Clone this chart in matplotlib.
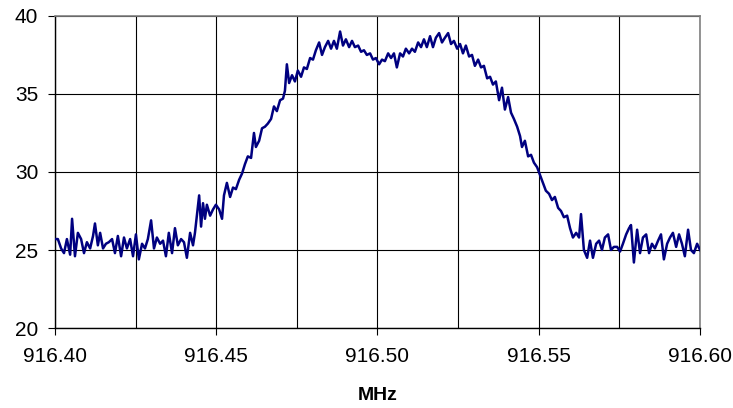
import numpy as np
import matplotlib

matplotlib.use("Agg")
import matplotlib.pyplot as plt
from matplotlib.ticker import MultipleLocator

plt.rcParams["font.family"] = ["Liberation Sans", "DejaVu Sans"]

LINE_C = "#000080"

# frequency offset above 916.40 MHz, in kHz
OFFSET_KHZ = [
    0.0, 0.9, 1.9, 2.8, 3.7, 4.7, 5.3, 6.2, 7.1, 8.1, 9.0, 9.9, 10.9, 11.8, 12.4, 13.3,
    14.0, 14.9, 15.8, 16.7, 17.7, 18.6, 19.5, 20.5, 21.4, 22.3, 23.3, 24.2, 25.1, 26.0,
    27.0, 27.9, 28.8, 29.8, 30.7, 31.6, 32.6, 33.5, 34.4, 35.3, 36.3, 37.2, 38.1, 39.1,
    40.0, 40.9, 41.9, 42.8, 43.4, 44.0, 44.7, 45.3, 45.9, 46.5, 47.1, 48.1, 49.0, 49.9,
    50.9, 51.8, 52.4, 53.3, 54.3, 55.2, 56.1, 57.1, 58.0, 58.9, 59.8, 60.8, 61.7, 62.3,
    63.3, 64.2, 65.1, 66.0, 67.0, 67.9, 68.8, 69.8, 70.7, 71.3, 71.9, 72.6, 73.5, 74.4,
    75.3, 76.3, 77.2, 78.1, 79.1, 80.0, 80.9, 81.9, 82.8, 83.7, 84.7, 85.6, 86.5, 87.4,
    88.4, 89.3, 90.2, 91.2, 92.1, 93.0, 94.0, 94.9, 95.8, 96.7, 97.7, 98.6, 99.5, 100.5,
    101.4, 102.3, 103.3, 104.2, 105.1, 106.0, 107.0, 107.9, 108.8, 109.8, 110.7, 111.6,
    112.6, 113.5, 114.4, 115.3, 116.3, 117.2, 118.1, 119.1, 120.0, 120.9, 121.9, 122.8,
    123.7, 124.7, 125.6, 126.5, 127.4, 128.4, 129.3, 130.2, 131.2, 132.1, 133.0, 134.0,
    134.9, 135.8, 136.7, 137.7, 138.6, 139.5, 140.5, 141.4, 142.3, 143.3, 144.2, 144.8,
    145.7, 146.7, 147.6, 148.5, 149.5, 150.4, 151.3, 152.2, 153.2, 154.1, 155.0, 156.0,
    156.9, 157.8, 158.8, 159.7, 160.6, 161.6, 162.5, 163.1, 164.0, 165.0, 165.9, 166.8,
    167.8, 168.7, 169.6, 170.5, 171.5, 172.4, 173.3, 174.3, 175.2, 176.1, 177.1, 178.0,
    178.6, 179.5, 180.5, 181.4, 182.3, 183.3, 184.2, 185.1, 186.0, 187.0, 187.9, 188.8,
    189.8, 190.7, 191.6, 192.6, 193.5, 194.4, 195.3, 196.3, 197.2, 198.1, 199.1, 200.0,
]

LEVEL = [
    25.7, 25.7, 25.1, 24.8, 25.7, 24.7, 27.0, 24.6, 26.1, 25.7, 24.8, 25.5, 25.1, 25.9, 26.7, 25.3,
    26.1, 25.1, 25.4, 25.5, 25.7, 24.8, 25.9, 24.6, 25.8, 25.1, 25.7, 24.6, 26.0, 24.4,
    25.4, 25.1, 25.7, 26.9, 25.1, 25.8, 25.4, 25.6, 24.6, 26.1, 24.8, 26.4, 25.3, 25.7,
    25.5, 24.5, 26.1, 25.3, 26.1, 27.2, 28.5, 26.5, 28.0, 27.0, 27.9, 27.2, 27.6, 27.9,
    27.6, 27.0, 28.5, 29.3, 28.4, 29.0, 28.9, 29.5, 29.9, 30.5, 31.0, 30.9, 32.5, 31.6,
    32.0, 32.8, 32.9, 33.1, 33.4, 34.2, 33.9, 34.6, 34.7, 35.2, 36.9, 35.7, 36.2, 35.8,
    36.5, 36.1, 36.7, 36.6, 37.3, 37.2, 37.8, 38.3, 37.5, 38.0, 38.4, 37.9, 38.4, 37.9,
    39.0, 38.1, 38.5, 38.0, 38.4, 38.0, 38.1, 37.7, 37.8, 37.5, 37.6, 37.2, 37.3, 36.9,
    37.2, 37.1, 37.6, 37.3, 37.6, 36.7, 37.6, 37.4, 37.9, 37.6, 37.9, 37.7,
    38.3, 38.0, 38.5, 38.0, 38.7, 38.0, 38.6, 38.9, 38.3, 38.6, 38.9, 38.2,
    38.4, 37.9, 38.2, 37.6, 38.1, 37.4, 37.5, 36.8, 37.2, 36.7, 36.8, 36.0,
    36.1, 35.6, 35.8, 34.6, 35.4, 34.0, 34.8, 33.8, 33.4, 32.9, 32.3, 31.6,
    32.0, 31.0, 31.1, 30.6, 30.3, 29.8, 29.3, 28.8, 28.6, 28.2, 28.4, 27.7,
    27.5, 27.1, 27.2, 26.4, 25.8, 26.1, 25.8, 27.3, 25.0, 24.5, 25.6, 24.5,
    25.4, 25.6, 25.0, 25.8, 26.0, 25.0, 25.2, 25.2, 24.9, 25.4, 26.0, 26.4,
    26.6, 24.2, 26.3, 24.8, 25.8, 26.0, 24.8, 25.4, 25.1, 25.6, 26.0, 24.4,
    25.4, 25.8, 26.1, 25.2, 26.0, 25.4, 24.6, 26.3, 25.0, 24.8, 25.4, 25.0,
]

START_MHZ = 916.40
X_TICKS = [916.40, 916.45, 916.50, 916.55, 916.60]
Y_TICKS = [20, 25, 30, 35, 40]


def main():
    mhz = START_MHZ + np.array(OFFSET_KHZ) / 1000.0
    fig = plt.figure(figsize=(7.33, 4.08), dpi=100)
    ax = fig.add_axes([0.075, 0.196, 0.880, 0.765])

    ax.plot(mhz, LEVEL, color=LINE_C, lw=1.8, zorder=3)

    ax.set_xlim(X_TICKS[0], X_TICKS[-1])
    ax.set_ylim(Y_TICKS[0], Y_TICKS[-1])
    ax.set_xticks(X_TICKS)
    ax.set_xticklabels([f"{v:.2f}" for v in X_TICKS])
    ax.set_yticks(Y_TICKS)
    ax.xaxis.set_minor_locator(MultipleLocator(0.025))
    ax.grid(True, which="both", color="black", lw=0.8)
    ax.tick_params(which="minor", length=0)
    ax.tick_params(which="major", direction="out", length=5, width=0.8,
                   labelsize=15, colors="black")
    ax.tick_params(axis="y", pad=7)
    ax.tick_params(axis="x", pad=9)

    for side in ("top", "right"):
        ax.spines[side].set_color("#808080")
        ax.spines[side].set_linewidth(1.2)
    for side in ("left", "bottom"):
        ax.spines[side].set_color("black")
        ax.spines[side].set_linewidth(1.0)

    fig.text(378 / 733, 1 - 395 / 408, "MHz", ha="center", va="center",
             fontsize=14, weight="bold")

    fig.savefig("out.png", dpi=100, facecolor="white")


if __name__ == "__main__":
    main()
